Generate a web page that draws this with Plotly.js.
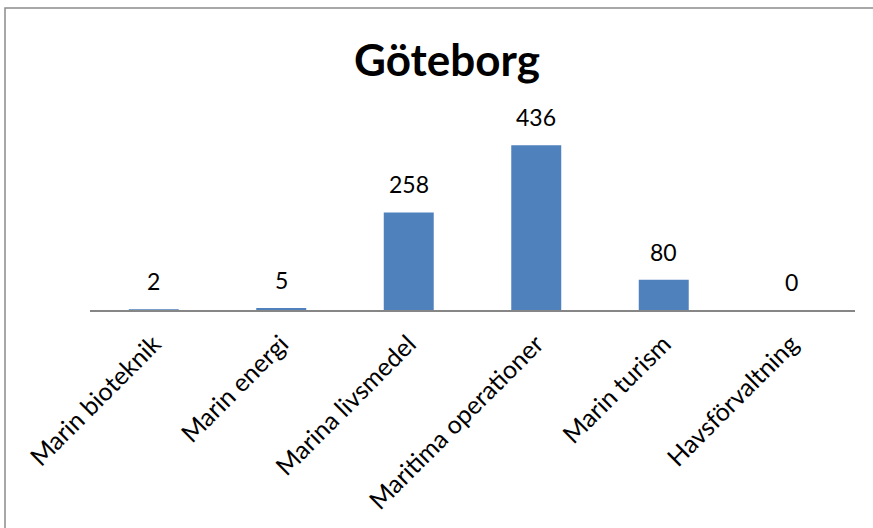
<!DOCTYPE html>
<html><head><meta charset="utf-8">
<script src="https://cdn.plot.ly/plotly-3.0.1.min.js"></script>
<style>html,body{margin:0;padding:0;background:#fff}#chart{width:873px;height:528px}</style>
</head><body><div id="chart"></div>
<script>
const categories = ["Marin bioteknik", "Marin energi", "Marina livsmedel", "Maritima operationer", "Marin turism", "Havsförvaltning"];
const values = [2, 5, 258, 436, 80, 0];
const chartTitle = "Göteborg";

const L = 90, R = 18, T = 121, B = 218, W = 873, H = 528;
const pw = W - L - R, ph = H - T - B;
const FONT = 'Lato, sans-serif';

Plotly.newPlot('chart', [{
  type: 'bar',
  x: categories,
  y: values,
  marker: {color: '#4F81BD'},
  cliponaxis: false,
  hoverinfo: 'none'
}], {
  width: W, height: H,
  margin: {l: L, r: R, t: T, b: B, pad: 0},
  paper_bgcolor: '#fff', plot_bgcolor: '#fff',
  title: {text: '<b>' + chartTitle + '</b>', font: {family: FONT, size: 44, color: '#000'}, x: 0.512, xanchor: 'center', y: 0.885, yanchor: 'middle'},
  bargap: 0.608,
  showlegend: false,
  xaxis: {
    showline: true, linecolor: '#868686', linewidth: 1.5, ticks: '',
    tickangle: -45, tickfont: {family: FONT, size: 25, color: '#000'},
    ticklabelstandoff: 8,
    showgrid: false, zeroline: false, fixedrange: true
  },
  yaxis: {
    range: [0, 500], visible: false, showgrid: false, zeroline: false, fixedrange: true
  },
  annotations: categories.map((c, i) => ({
    x: c, y: values[i], xref: 'x', yref: 'y', text: String(values[i]),
    showarrow: false, yanchor: 'bottom', yshift: 12,
    font: {family: FONT, size: 23, color: '#000'}
  })),
  shapes: [{
    type: 'rect', xref: 'paper', yref: 'paper',
    x0: (5 - L) / pw, x1: (W + 5 - L) / pw,
    y0: (T + ph - (H + 5)) / ph, y1: (T + ph - 8) / ph,
    line: {color: '#8c8c8c', width: 1.5}, fillcolor: 'rgba(0,0,0,0)', layer: 'below'
  }]
}, {displayModeBar: false, staticPlot: true});
</script></body></html>
